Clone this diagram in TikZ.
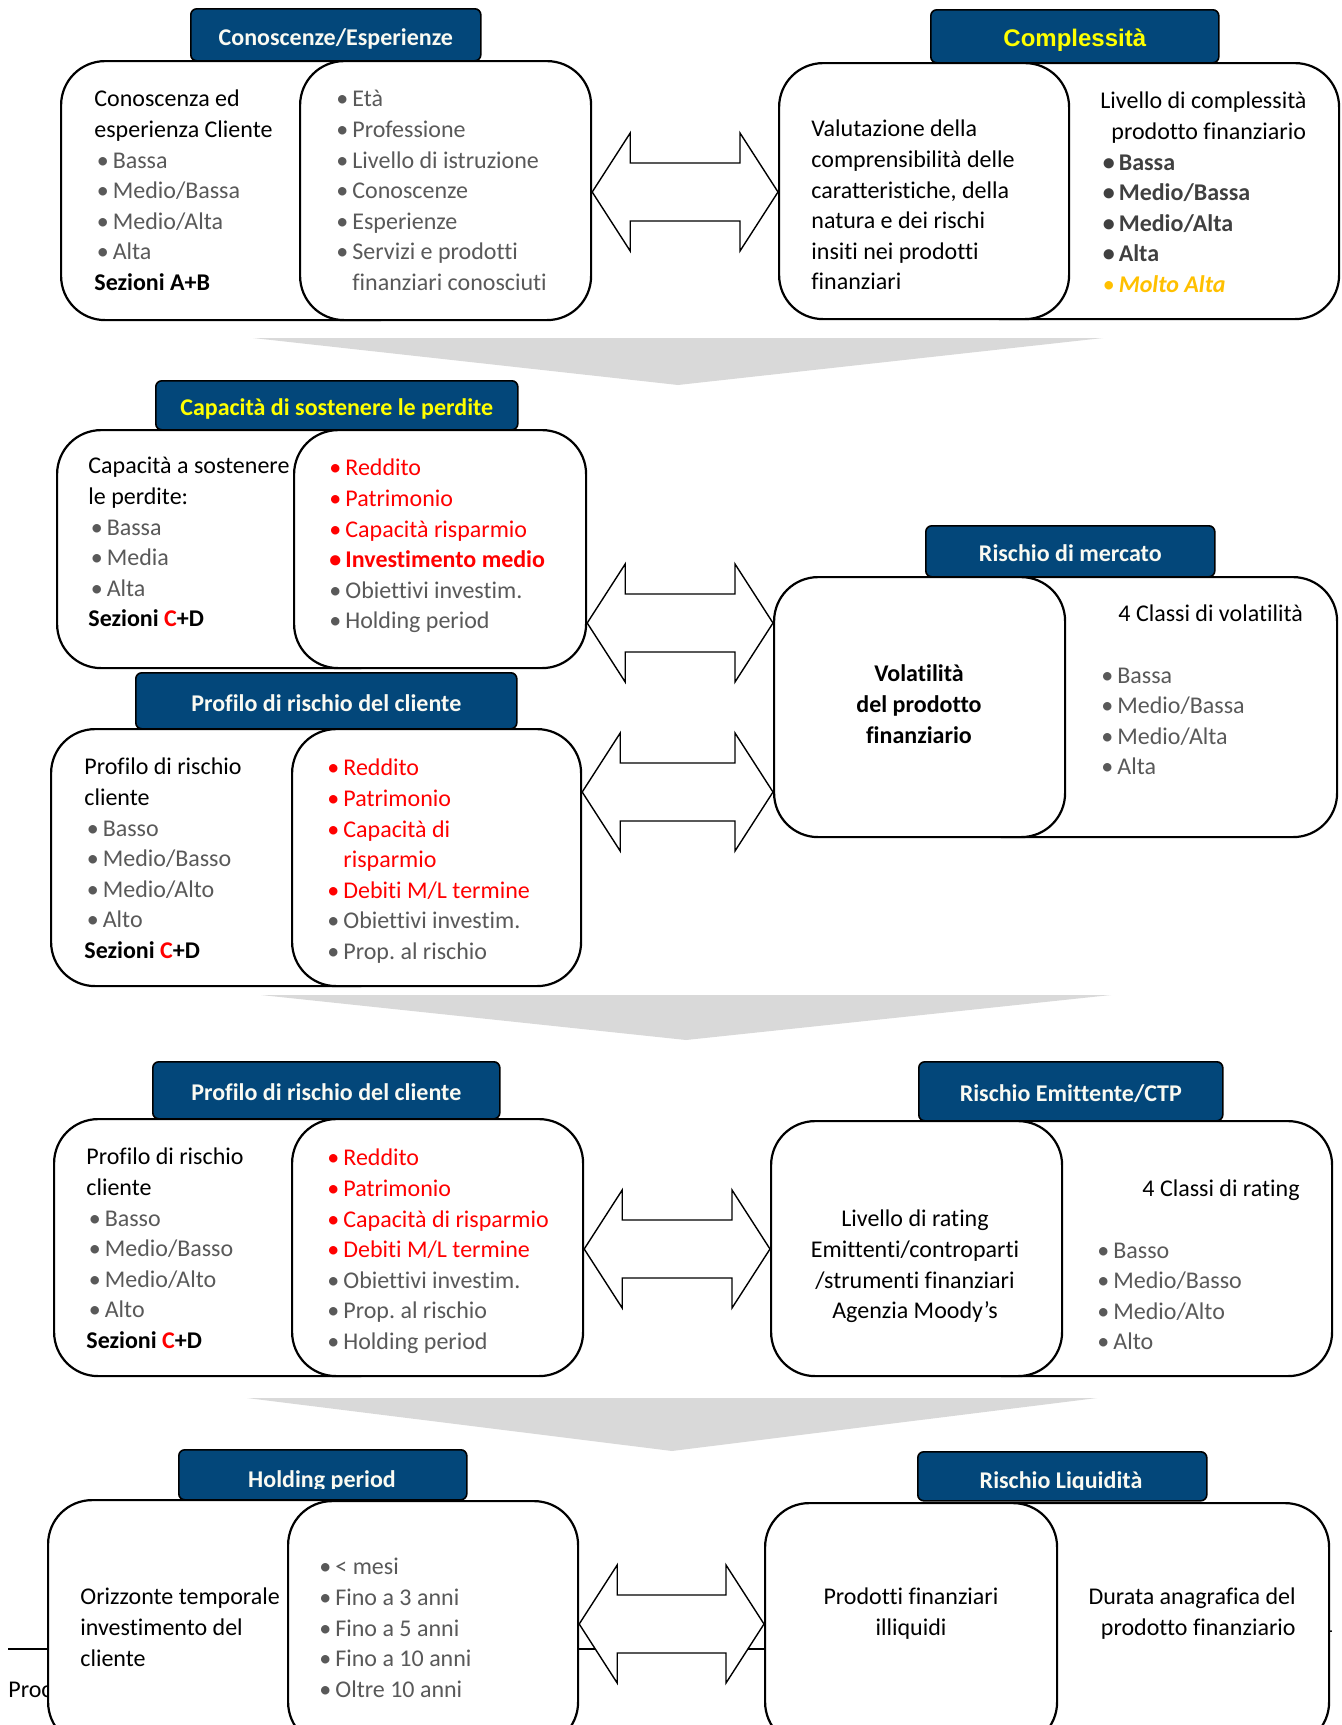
\documentclass[tikz,border=0pt]{standalone}
\usepackage{fontspec}
\setmainfont{Carlito}[Ligatures=CommonOff]
\newfontfamily\arialfont{Liberation Sans}
\usepackage{xcolor}
\usepackage{tikz}
\usetikzlibrary{calc}
\definecolor{hdrblue}{RGB}{3, 71, 122}
\definecolor{hdrwhite}{RGB}{250, 250, 242}
\definecolor{hdryellow}{RGB}{255, 255, 0}
\definecolor{txtgray}{RGB}{89, 89, 89}
\definecolor{boldgray}{RGB}{64, 64, 64}
\definecolor{moltoalta}{RGB}{255, 192, 0}
\definecolor{chevgray}{RGB}{217, 217, 217}
\definecolor{itemred}{RGB}{255, 0, 0}
\newcommand{\bul}{\makebox[8pt][l]{•}}
\newcommand{\grayitem}[1]{\textcolor{txtgray}{\bul #1}}
\newcommand{\reditem}[1]{\textcolor{itemred}{\bul #1}}
\newcommand{\ind}{\hspace*{1.2pt}}
\newcommand{\dblarrow}[3]{%
  \draw[blockarrow] (#1.east |- 0,#3) coordinate (lt)
    -- ++(38,-59) -- ++(0,30)
    -- ($(#2.west |- 0,#3)+(-38,-29)$) -- ++(0,-30)
    -- (#2.west |- 0,#3)
    -- ++(-38,59) -- ++(0,-30)
    -- ($(lt)+(38,29)$) -- ++(0,30) -- cycle;}
\tikzset{
  hdr/.style={draw=black, line width=0.8pt, fill=hdrblue, rounded corners=3pt, anchor=north west, inner sep=0pt, text height=12.5pt, text depth=2pt, text=hdrwhite, font=\bfseries\fontsize{12}{14}\selectfont},
  card/.style={draw=black, line width=1.1pt, fill=white, rounded corners=22pt, anchor=north west, inner sep=0pt},
  txt/.style={anchor=north west, inner sep=0pt, align=left, font=\fontsize{12}{15.3}\selectfont},
  blockarrow/.style={draw=black, line width=0.7pt, fill=white, line join=miter},
  chevron/.style={fill=chevgray, draw=none}
}

\begin{document}
\begin{tikzpicture}[x=0.5pt, y=-0.5pt]
\useasboundingbox (0,0) rectangle (1341,1725);
\clip (0,0) rectangle (1341,1725);

\draw[line width=1pt] (8,1649) -- (1330,1649);
\node[txt, anchor=base west] (footl) at (8,1697) {Proc};
\node[txt, anchor=base west] (footr) at (1320,1636) {4};

\fill[chevron] (253,338) -- (1103,338) -- (678,385) -- cycle;
\fill[chevron] (261,995) -- (1111,995) -- (686,1040) -- cycle;
\fill[chevron] (247,1398) -- (1097,1398) -- (672,1451) -- cycle;

% conoscenze / complessita
\node[hdr, minimum width=145pt, minimum height=26pt] (hdKnow) at (190,8) {Conoscenze/Esperienze};
\node[hdr, minimum width=144pt, minimum height=26.5pt, text=hdryellow, font=\arialfont\bfseries\fontsize{12}{14}\selectfont] (hdCompl) at (930,9) {Complessità};
\node[card, minimum width=180pt, minimum height=129.5pt] (cardA) at (60,60) {};
\node[card, minimum width=145.5pt, minimum height=129.5pt] (cardB) at (299,60) {};
\node[card, minimum width=190pt, minimum height=128pt] (cardD) at (958,62) {};
\node[card, minimum width=145pt, minimum height=128pt] (cardC) at (778,62) {};
\node[txt] (txA) at (94,85) {\strut Conoscenza ed\\esperienza Cliente\\\ind\grayitem{Bassa}\\\ind\grayitem{Medio/Bassa}\\\ind\grayitem{Medio/Alta}\\\ind\grayitem{Alta}\\\textbf{Sezioni A+B}};
\node[txt] (txB) at (336,85) {\strut\grayitem{Età}\\\grayitem{Professione}\\\grayitem{Livello di istruzione}\\\grayitem{Conoscenze}\\\grayitem{Esperienze}\\\grayitem{Servizi e prodotti}\\\textcolor{txtgray}{\hspace*{8pt}finanziari conosciuti}};
\node[txt] (txC) at (811,115) {\strut Valutazione della\\comprensibilità delle\\caratteristiche, della\\natura e dei rischi\\insiti nei prodotti\\finanziari};
\node[txt] (txD) at (1100,87) {\strut Livello di complessità\\\hspace*{5.5pt}prodotto finanziario\\\textcolor{boldgray}{\bfseries\ind\bul Bassa}\\\textcolor{boldgray}{\bfseries\ind\bul Medio/Bassa}\\\textcolor{boldgray}{\bfseries\ind\bul Medio/Alta}\\\textcolor{boldgray}{\bfseries\ind\bul Alta}\\\textcolor{moltoalta}{\ind\bul\textbf{\textit{Molto Alta}}}};
\dblarrow{cardB}{cardC}{192}

% perdite / profilo / mercato
\node[hdr, minimum width=181pt, minimum height=24.5pt, text=hdryellow] (hdLoss) at (155,380) {Capacità di sostenere le perdite};
\node[card, minimum width=172pt, minimum height=119pt] (cardE) at (56,429) {};
\node[card, minimum width=146pt, minimum height=119pt] (cardF) at (293,429) {};
\node[txt] (txE) at (88,452) {\strut Capacità a sostenere\\le perdite:\\\ind\grayitem{Bassa}\\\ind\grayitem{Media}\\\ind\grayitem{Alta}\\\textbf{Sezioni \textcolor{itemred}{C}+D}};
\node[txt] (txF) at (329,454) {\strut\reditem{Reddito}\\\reditem{Patrimonio}\\\reditem{Capacità risparmio}\\\textbf{\reditem{Investimento medio}}\\\grayitem{Obiettivi investim.}\\\grayitem{Holding period}};
\node[hdr, minimum width=190.5pt, minimum height=28pt] (hdProfA) at (135,672) {Profilo di rischio del cliente};
\node[card, minimum width=175pt, minimum height=128.5pt] (cardG) at (50,728) {};
\node[card, minimum width=144.5pt, minimum height=128.5pt] (cardH) at (291,728) {};
\node[txt] (txG) at (84,753) {\strut Profilo di rischio\\cliente\\\ind\grayitem{Basso}\\\ind\grayitem{Medio/Basso}\\\ind\grayitem{Medio/Alto}\\\ind\grayitem{Alto}\\\textbf{Sezioni \textcolor{itemred}{C}+D}};
\node[txt] (txH) at (327,754) {\strut\reditem{Reddito}\\\reditem{Patrimonio}\\\reditem{Capacità di}\\\textcolor{itemred}{\hspace*{8pt}risparmio}\\\reditem{Debiti M/L termine}\\\grayitem{Obiettivi investim.}\\\grayitem{Prop.\ al rischio}};
\node[hdr, minimum width=144.5pt, minimum height=25.5pt] (hdMkt) at (925,525) {Rischio di mercato};
\node[card, minimum width=188pt, minimum height=130pt] (cardJ) at (960,576) {};
\node[card, minimum width=145.5pt, minimum height=130pt] (cardI) at (773,576) {};
\node[txt, anchor=north, align=center, font=\bfseries\fontsize{12}{15.3}\selectfont] (txI) at (919,660) {\strut Volatilità\\del prodotto\\finanziario};
\node[txt] (txJ) at (1101,600) {\strut\hspace*{8.5pt}4 Classi di volatilità\\[15.3pt]\grayitem{Bassa}\\\grayitem{Medio/Bassa}\\\grayitem{Medio/Alta}\\\grayitem{Alta}};
\dblarrow{cardF}{cardI}{623}
\dblarrow{cardH}{cardI}{792}

% profilo / emittente
\node[hdr, minimum width=173.5pt, minimum height=28.5pt] (hdProfB) at (152,1061) {Profilo di rischio del cliente};
\node[card, minimum width=173.5pt, minimum height=128.5pt] (cardK) at (53,1118) {};
\node[card, minimum width=145.5pt, minimum height=128.5pt] (cardL) at (291,1118) {};
\node[txt] (txK) at (86,1143) {\strut Profilo di rischio\\cliente\\\ind\grayitem{Basso}\\\ind\grayitem{Medio/Basso}\\\ind\grayitem{Medio/Alto}\\\ind\grayitem{Alto}\\\textbf{Sezioni \textcolor{itemred}{C}+D}};
\node[txt] (txL) at (327,1144) {\strut\reditem{Reddito}\\\reditem{Patrimonio}\\\reditem{Capacità di risparmio}\\\reditem{Debiti M/L termine}\\\grayitem{Obiettivi investim.}\\\grayitem{Prop.\ al rischio}\\\grayitem{Holding period}};
\node[hdr, minimum width=152pt, minimum height=29.5pt] (hdIssuer) at (918,1061) {Rischio Emittente/CTP};
\node[card, minimum width=185.5pt, minimum height=127.5pt] (cardN) at (960,1120) {};
\node[card, minimum width=145.5pt, minimum height=127.5pt] (cardM) at (770,1120) {};
\node[txt, anchor=north, align=center] (txM) at (915,1205) {\strut Livello di rating\\Emittenti/controparti\\/strumenti finanziari\\Agenzia Moody’s};
\node[txt] (txN) at (1097,1175) {\strut\hspace*{22.5pt}4 Classi di rating\\[15.3pt]\grayitem{Basso}\\\grayitem{Medio/Basso}\\\grayitem{Medio/Alto}\\\grayitem{Alto}};
\dblarrow{cardL}{cardM}{1249}

% holding period / liquidita
\node[hdr, minimum width=144pt, minimum height=25pt] (hdHold) at (178,1449) {};
\begin{scope}
\clip (178,1449) rectangle (466,1488);
\node[txt, anchor=base, text=hdrwhite, font=\bfseries\fontsize{12}{14}\selectfont] (txHold) at (322,1487) {Holding period};
\end{scope}
\node[hdr, minimum width=144.5pt, minimum height=24.5pt] (hdLiq) at (917,1451) {};
\begin{scope}
\clip (917,1451) rectangle (1206,1489);
\node[txt, anchor=base, text=hdrwhite, font=\bfseries\fontsize{12}{14}\selectfont] (txLiq) at (1061,1488) {Rischio Liquidità};
\end{scope}
\node[card, minimum width=176.5pt, minimum height=123pt] (cardO) at (47,1499) {};
\node[card, minimum width=145pt, minimum height=122.5pt] (cardP) at (287,1500) {};
\node[txt] (txO) at (80,1583) {\strut Orizzonte temporale\\investimento del\\cliente};
\node[txt] (txP) at (319,1553) {\strut\grayitem{< mesi}\\\grayitem{Fino a 3 anni}\\\grayitem{Fino a 5 anni}\\\grayitem{Fino a 10 anni}\\\grayitem{Oltre 10 anni}};
\node[card, minimum width=184pt, minimum height=121.5pt] (cardR) at (960,1502) {};
\node[card, minimum width=146pt, minimum height=121.5pt] (cardQ) at (764,1502) {};
\node[txt, anchor=north, align=center] (txQ) at (911,1583) {\strut Prodotti finanziari\\illiquidi};
\node[txt, anchor=north east, align=right] (txR) at (1296,1583) {\strut Durata anagrafica del\\prodotto finanziario};
\dblarrow{cardP}{cardQ}{1624}
\end{tikzpicture}
\end{document}
